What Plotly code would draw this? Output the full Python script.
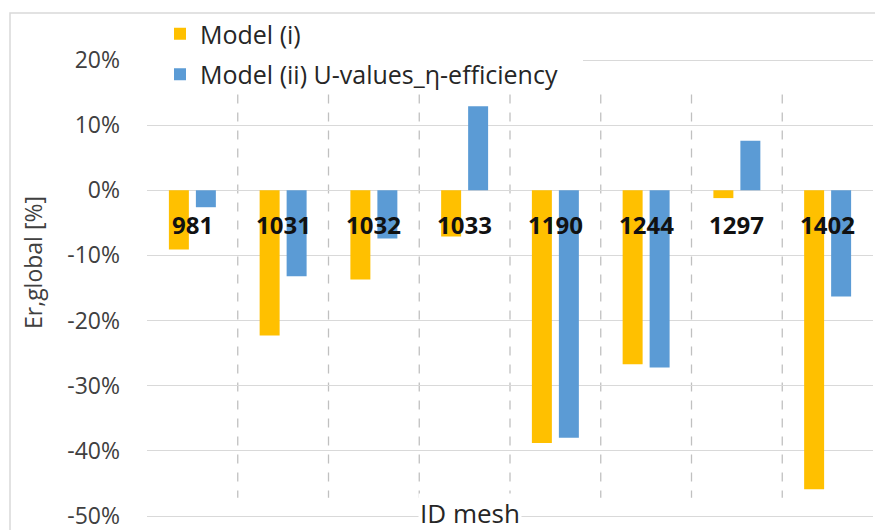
import plotly.graph_objects as go

categories = ["981", "1031", "1032", "1033", "1190", "1244", "1297", "1402"]
model_i = [-0.091, -0.223, -0.137, -0.071, -0.388, -0.267, -0.012, -0.459]
model_ii = [-0.026, -0.132, -0.074, 0.129, -0.380, -0.272, 0.076, -0.163]
series_names = ["Model (i)", "Model (ii) U-values_η-efficiency"]
y_ticks = [-0.5, -0.4, -0.3, -0.2, -0.1, 0.0, 0.1, 0.2]
y_tick_labels = ["-50%", "-40%", "-30%", "-20%", "-10%", "0%", "10%", "20%"]
y_title = "Er,global [%]"
x_title = "ID mesh"

FONT = "Open Sans"
YELLOW = "#FFC000"
BLUE = "#5B9BD5"
GRID = "#d9d9d9"

# page body has an 8px margin: figure is sized so that it fits the window
OFF = 8
W, H = 875, 522
# reference pixel layout of the value axis
Y_TOP_TICK_PX, Y_BOT_TICK_PX = 60, 516      # page y of 20% and -50%
PLOT_TOP_PX, PLOT_BOT_PX = 8, 519           # page y of plot area edges
PLOT_LEFT_PX, PLOT_RIGHT_PX = 147, 873

L = PLOT_LEFT_PX - OFF
R = W - (PLOT_RIGHT_PX - OFF)
T = PLOT_TOP_PX - OFF
B = H - (PLOT_BOT_PX - OFF)
PW, PH = W - L - R, H - T - B

per_px = (y_ticks[-1] - y_ticks[0]) / (Y_BOT_TICK_PX - Y_TOP_TICK_PX)
y_range = [y_ticks[0] - (PLOT_BOT_PX - Y_BOT_TICK_PX) * per_px,
           y_ticks[-1] + (Y_TOP_TICK_PX - PLOT_TOP_PX) * per_px]


def px_x(x):  # reference pixel -> paper x
    return (x - PLOT_LEFT_PX) / PW


def px_y(y):  # reference pixel -> paper y
    return (PLOT_BOT_PX - y) / PH


fig = go.Figure()
fig.add_trace(go.Bar(x=categories, y=model_i, name=series_names[0],
                     marker=dict(color=YELLOW, line=dict(width=0)), legendgroup="a"))
fig.add_trace(go.Bar(x=categories, y=model_ii, name=series_names[1],
                     marker=dict(color=BLUE, line=dict(width=0)), legendgroup="b"))

shapes = []
for k in range(len(categories) - 1):
    shapes.append(dict(type="line", xref="x", yref="y", x0=k + 0.5, x1=k + 0.5,
                       y0=0.147, y1=-0.472,
                       line=dict(color="#c0c0c0", width=1.3, dash="dash"), layer="below"))
# white strip where the legend box hides the top gridline
shapes.append(dict(type="rect", xref="paper", yref="paper",
                   x0=0, x1=px_x(583), y0=px_y(63), y1=px_y(57),
                   line=dict(width=0), fillcolor="white", layer="above"))
# outer chart border
shapes.append(dict(type="rect", xref="paper", yref="paper",
                   x0=px_x(10), x1=px_x(881), y0=px_y(545), y1=px_y(13),
                   line=dict(color="#d9d9d9", width=1.5), fillcolor="rgba(0,0,0,0)"))

annotations = []
for i, c in enumerate(categories):
    annotations.append(dict(x=i, y=-0.053, xref="x", yref="y", text="<b>%s</b>" % c,
                            showarrow=False, font=dict(family=FONT, size=24, color="#111111")))
annotations.append(dict(x=px_x(470), y=px_y(513), xref="paper", yref="paper",
                        text=x_title, showarrow=False, bgcolor="white",
                        font=dict(family=FONT, size=26, color="#262626"),
                        xanchor="center", yanchor="middle"))
annotations.append(dict(x=px_x(33), y=px_y(263), xref="paper", yref="paper",
                        text=y_title, showarrow=False, textangle=-90,
                        font=dict(family=FONT, size=23, color="#404040"),
                        xanchor="center", yanchor="middle"))

fig.update_layout(
    width=W, height=H,
    margin=dict(l=L, r=R, t=T, b=B),
    paper_bgcolor="white", plot_bgcolor="white",
    barmode="group", bargap=0.405, bargroupgap=0.26,
    showlegend=True,
    legend=dict(x=px_x(160), y=px_y(11), xanchor="left", yanchor="top",
                bgcolor="rgba(0,0,0,0)", font=dict(family=FONT, size=25, color="#262626"),
                tracegroupgap=5, itemwidth=30),
    shapes=shapes, annotations=annotations,
    font=dict(family=FONT),
)
fig.update_xaxes(showticklabels=False, showgrid=False, zeroline=False, showline=False,
                 range=[-0.5, len(categories) - 0.5])
fig.update_yaxes(range=y_range, tickvals=y_ticks, ticktext=y_tick_labels,
                 showgrid=True, gridcolor=GRID, gridwidth=1.3,
                 zeroline=True, zerolinecolor=GRID, zerolinewidth=1.3,
                 showline=False, ticks="", ticklabelstandoff=26, automargin=False,
                 ticklabeloverflow="allow",
                 tickfont=dict(family=FONT, size=23, color="#404040"))

fig.write_html("out.html")
